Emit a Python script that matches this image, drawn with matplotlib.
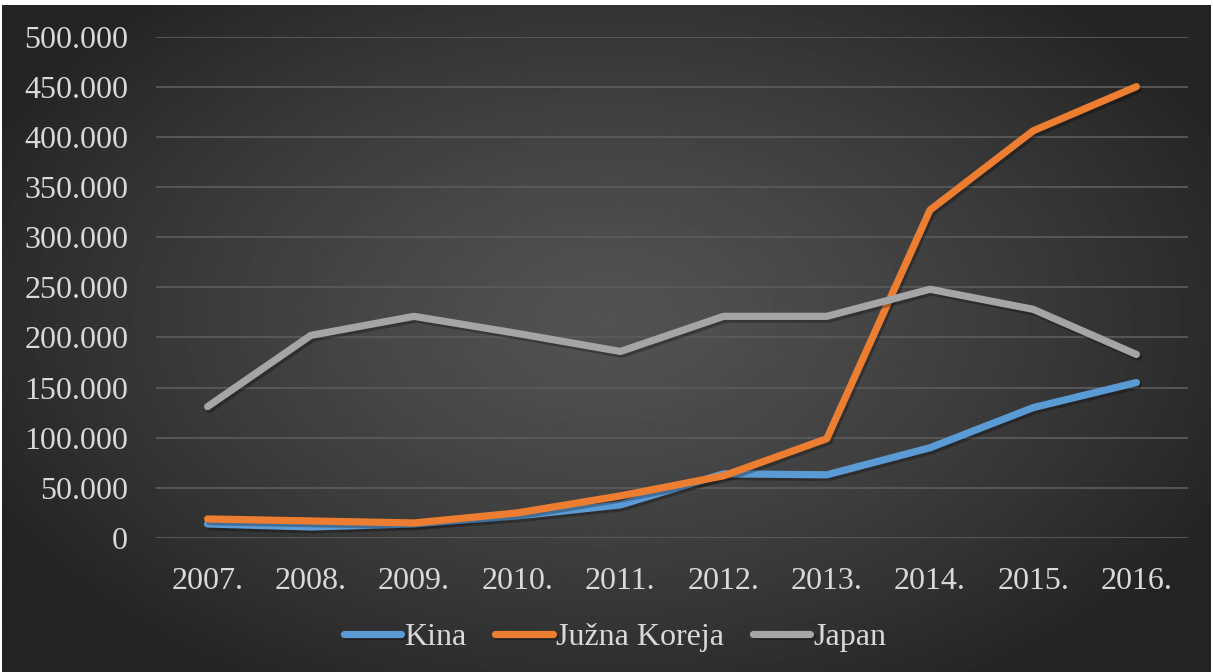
import numpy as np
import matplotlib
matplotlib.use('Agg')
import matplotlib.pyplot as plt
import matplotlib.patheffects as pe
from matplotlib.ticker import FuncFormatter

# data
years = ['2007.', '2008.', '2009.', '2010.', '2011.', '2012.', '2013.', '2014.', '2015.', '2016.']
kina = [14000, 11000, 14000, 22000, 33000, 64000, 63000, 90000, 130000, 155000]
juzna_koreja = [19000, 17000, 15000, 25000, 42000, 62000, 99000, 327000, 406000, 450000]
japan = [131000, 202000, 221000, 204000, 186000, 221000, 221000, 248000, 228000, 183000]

series_names = ['Kina', 'Južna Koreja', 'Japan']
series_colors = ['#5B9BD5', '#ED7D31', '#A5A5A5']

plt.rcParams['font.family'] = ['Liberation Serif', 'DejaVu Serif']
W, H = 1213, 672
fig = plt.figure(figsize=(W / 100, H / 100), dpi=100, facecolor='white')

# radial gradient background
bg = fig.add_axes([2 / W, 0, 1 - 4 / W, (H - 5) / H])
bg.set_axis_off()
yy, xx = np.mgrid[0:1:400j, 0:1:700j]
r = np.sqrt(((xx - 0.5) / 0.75) ** 2 + ((yy - 0.47) / 0.85) ** 2)
r = np.clip(r / 0.75, 0, 1)
shade = 0x52 / 255 - (0x52 - 0x25) / 255 * r ** 1.3
bg.imshow(shade, cmap='gray', vmin=0, vmax=1, aspect='auto', interpolation='bilinear')

ax = fig.add_axes([156 / W, 134 / H, (1188 - 156) / W, (538 - 36.5) / H])
ax.patch.set_alpha(0)
for s in ax.spines.values():
    s.set_visible(False)

x = np.arange(len(years))
shadow = [pe.SimpleLineShadow(offset=(1.5, -2), shadow_color='black', alpha=0.28), pe.Normal()]
for vals, name, col in zip([kina, juzna_koreja, japan], series_names, series_colors):
    ax.plot(x, vals, color=col, lw=5.2, label=name, solid_capstyle='round',
            solid_joinstyle='round', path_effects=shadow)

ax.set_xlim(-0.5, len(years) - 0.5)
ax.set_ylim(0, 500000)
ax.set_yticks(np.arange(0, 500001, 50000))
ax.yaxis.set_major_formatter(FuncFormatter(lambda v, p: f"{int(v):,}".replace(',', '.')))
ax.set_xticks(x)
ax.set_xticklabels(years)
ax.grid(axis='y', color='#5a5a5a', lw=1.3)
ax.set_axisbelow(True)
ax.tick_params(axis='both', length=0, colors='#D9D9D9', labelsize=23)
ax.tick_params(axis='y', pad=20)
ax.tick_params(axis='x', pad=21)

leg = fig.legend(loc='center', bbox_to_anchor=(615 / W, 1 - 637 / H), ncol=3,
                 frameon=False, fontsize=23, handlelength=1.8, handletextpad=0.1,
                 columnspacing=0.9, labelcolor='#D9D9D9')

fig.savefig('out.png', dpi=100, facecolor='white')
